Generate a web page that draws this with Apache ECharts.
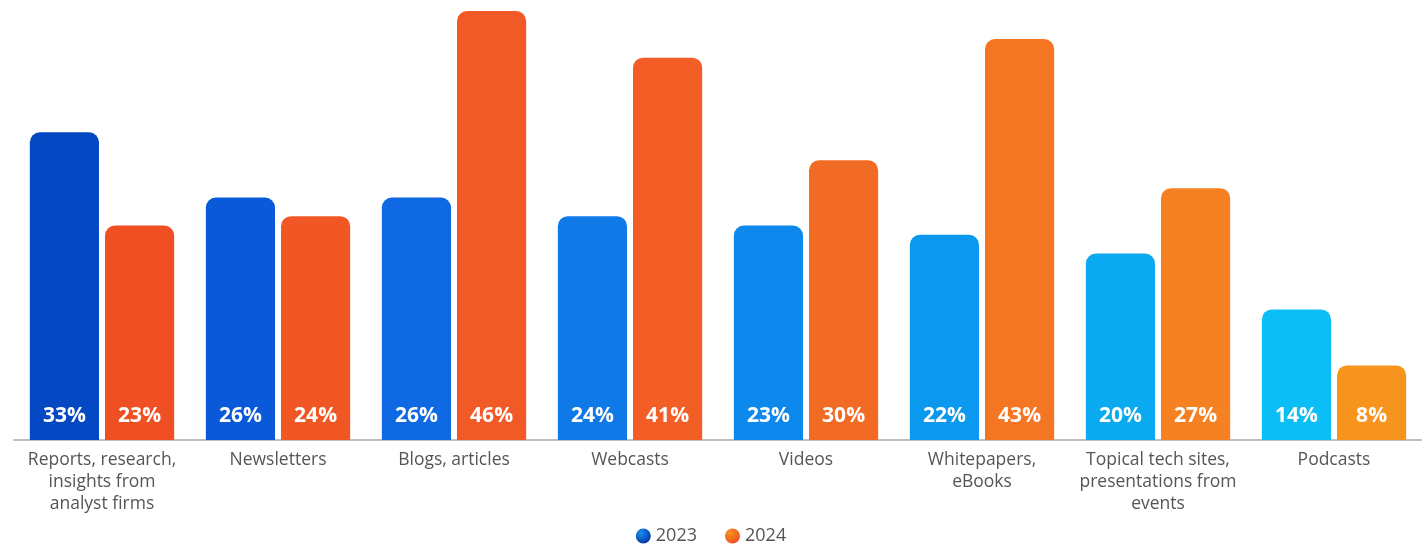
<!DOCTYPE html>
<html><head><meta charset="utf-8">
<script src="https://cdn.jsdelivr.net/npm/echarts@6/dist/echarts.min.js"></script>
<style>html,body{margin:0;padding:0;background:#fff}#c{width:1422px;height:546px}</style>
</head><body><div id="c"></div>
<script>
const categories = ["Reports, research,\ninsights from\nanalyst firms","Newsletters","Blogs, articles","Webcasts","Videos","Whitepapers,\neBooks","Topical tech sites,\npresentations from\nevents","Podcasts"];
const values2023 = [33,26,26,24,23,22,20,14];
const values2024 = [23,24,46,41,30,43,27,8];
const seriesNames = ["2023","2024"];

const blues = ["#0548c4","#0a59d8","#0e69e2","#0f79e8","#0d88ec","#0b98ef","#0aaaf1","#0bbef5"];
const oranges = ["#f04f23","#f15725","#f15926","#f25e26","#f26b24","#f47522","#f58122","#f7941d"];

const chart = echarts.init(document.getElementById('c'), null, {renderer:'canvas'});
const FONT = "'Open Sans', 'Noto Sans', sans-serif";
function mk(vals, cols){
  return vals.map((v,i)=>({value:v, itemStyle:{color:cols[i]}}));
}
const lbl = {show:true, position:'insideBottom', distance:13, color:'#fff', fontWeight:'bold', fontSize:21, fontFamily:FONT, formatter:'{c}%'};
chart.setOption({
  animation:false,
  grid:{left:14, right:-1, top:11, bottom:106, containLabel:false},
  legend:{bottom:-4, itemGap:28, icon:'circle', itemWidth:15, itemHeight:15,
    textStyle:{color:'#555', fontSize:18, fontFamily:FONT}},
  xAxis:{type:'category', data:categories,
    axisLine:{lineStyle:{color:'#aaa', width:1.5}}, axisTick:{show:false},
    axisLabel:{color:'#555', fontSize:17.5, lineHeight:22, margin:9, fontFamily:FONT, interval:0}},
  yAxis:{type:'value', min:0, max:46, show:false, splitLine:{show:false}},
  series:[
    {name:seriesNames[0], type:'bar', data:mk(values2023, blues), barGap:'8.7%', barCategoryGap:'18%',
      itemStyle:{borderRadius:[10,10,0,0], color:new echarts.graphic.RadialGradient(0.35,0.3,0.8,[{offset:0,color:'#1a8ff0'},{offset:1,color:'#02309e'}])},
      label:lbl},
    {name:seriesNames[1], type:'bar', data:mk(values2024, oranges),
      itemStyle:{borderRadius:[10,10,0,0], color:new echarts.graphic.RadialGradient(0.35,0.3,0.8,[{offset:0,color:'#f7941d'},{offset:1,color:'#ef4a23'}])},
      label:lbl}
  ]
});
</script></body></html>
